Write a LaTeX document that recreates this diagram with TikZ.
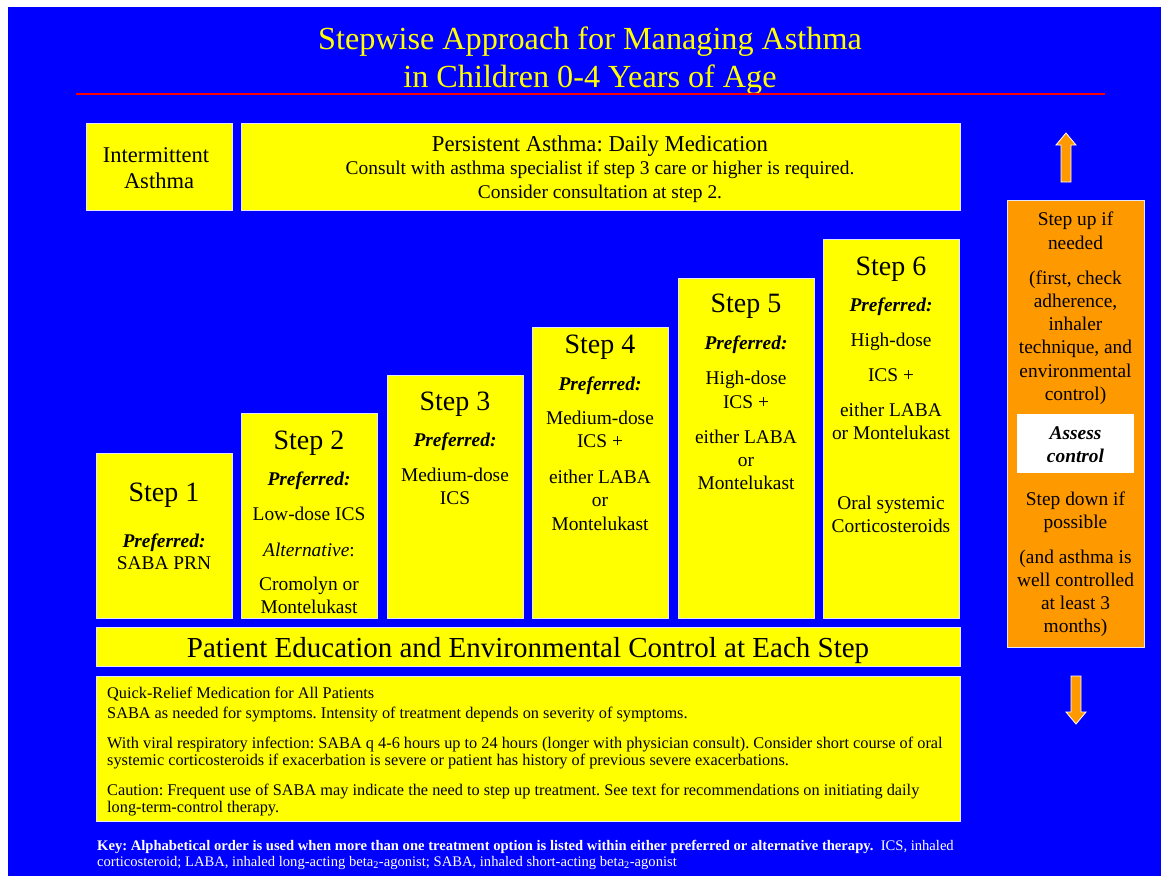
\documentclass[tikz,border=0pt]{standalone}
\usepackage{fontspec}
\setmainfont{Liberation Serif}
\frenchspacing

\definecolor{slideblue}{RGB}{0,0,255}
\definecolor{slideyellow}{RGB}{255,255,0}
\definecolor{steporange}{RGB}{255,153,0}
\definecolor{rimwhite}{RGB}{228,228,255}

\newcommand{\stepsize}{\fontsize{28}{34}\selectfont}
\newcommand{\prefbf}{\bfseries\itshape}

\tikzset{
  panel/.style={draw=rimwhite, line width=0.8pt, fill=slideyellow, anchor=north west, inner sep=0pt},
  txt/.style={anchor=base, inner sep=0pt, text=black, font=\fontsize{19.4}{23}\selectfont},
  heading/.style={anchor=base, inner sep=0pt, text=slideyellow, font=\fontsize{32.2}{38}\selectfont},
  note/.style={anchor=base west, inner sep=0pt, text=black, font=\fontsize{16.3}{19}\selectfont},
  keytxt/.style={anchor=base west, inner sep=0pt, text=white, font=\fontsize{14.6}{16}\selectfont},
  blockarrow/.style={fill=steporange, draw=white, line width=0.8pt, line join=miter}
}

\begin{document}
\begin{tikzpicture}[x=1pt, y=-1pt]
    \useasboundingbox (0,0) rectangle (1161,876);
    \fill[white] (0,0) rectangle (1161,876);
    \fill[slideblue] (8,7) rectangle (1161,876);

    % Title
    \node[heading] (title1) at (590,49) {Stepwise Approach for Managing Asthma};
    \node[heading] (title2) at (590,87) {in Children 0-4 Years of Age};
    \draw[red, line width=1.3pt] (76,94) -- (1105,94);

    % Top row
    \node[panel, minimum width=146, minimum height=87] (inter) at (86,123) {};
    \node[panel, minimum width=719, minimum height=87] (persist) at (241,123) {};
    \node[txt, font=\fontsize{22.5}{27}\selectfont] (inter1) at (156,162) {Intermittent};
    \node[txt, font=\fontsize{22.5}{27}\selectfont] (inter2) at (159,188) {Asthma};
    \node[txt, font=\fontsize{22.7}{27}\selectfont] (persist1) at (600,151) {Persistent Asthma: Daily Medication};
    \node[txt] (persist2) at (600,174) {Consult with asthma specialist if step 3 care or higher is required.};
    \node[txt] (persist3) at (600,198) {Consider consultation at step 2.};

    % Staircase of steps
    \foreach \i/\x/\top in {1/96/453, 2/241/413, 3/387/375, 4/532/327, 5/678/278, 6/823/239}
        \node[panel, minimum width=136, minimum height={618-\top}] (step\i) at (\x,\top) {};

    \foreach \y/\t [count=\k] in {501/{\stepsize Step 1}, 547/{\prefbf Preferred:}, 569/SABA PRN}
        \node[txt] (s1-\k) at (164,\y) {\t};
    \foreach \y/\t [count=\k] in {449/{\stepsize Step 2}, 485/{\prefbf Preferred:}, 520/Low-dose ICS,
        556/{{\itshape Alternative}:}, 590/Cromolyn or, 613/Montelukast}
        \node[txt] (s2-\k) at (309,\y) {\t};
    \foreach \y/\t [count=\k] in {410/{\stepsize Step 3}, 446/{\prefbf Preferred:}, 481/Medium-dose, 504/ICS}
        \node[txt] (s3-\k) at (455,\y) {\t};
    \foreach \y/\t [count=\k] in {353/{\stepsize Step 4}, 390/{\prefbf Preferred:}, 424/Medium-dose,
        447/ICS +, 483/either LABA, 506/or, 530/Montelukast}
        \node[txt] (s4-\k) at (600,\y) {\t};
    \foreach \y/\t [count=\k] in {312/{\stepsize Step 5}, 349/{\prefbf Preferred:}, 384/High-dose,
        408/ICS +, 443/either LABA, 466/or, 489/Montelukast}
        \node[txt] (s5-\k) at (746,\y) {\t};
    \foreach \y/\t [count=\k] in {275/{\stepsize Step 6}, 311/{\prefbf Preferred:}, 346/High-dose,
        381/ICS +, 416/either LABA, 439/or Montelukast, 509/Oral systemic, 532/Corticosteroids}
        \node[txt] (s6-\k) at (891,\y) {\t};

    % Education bar
    \node[panel, minimum width=864, minimum height=39] (edu) at (96,627) {};
    \node[txt, font=\fontsize{29}{34}\selectfont] (edutxt) at (528,657)
        {Patient Education and Environmental Control at Each Step};

    % Quick-relief box
    \node[panel, minimum width=864, minimum height=145] (relief) at (96,676) {};
    \node[note] (r1) at (107,698) {Quick-Relief Medication for All Patients};
    \node[note] (r2) at (107,718) {SABA as needed for symptoms. Intensity of treatment depends on severity of symptoms.};
    \node[note] (r3) at (107,748) {With viral respiratory infection: SABA q 4-6 hours up to 24 hours (longer with physician consult). Consider short course of oral};
    \node[note] (r4) at (107,765) {systemic corticosteroids if exacerbation is severe or patient has history of previous severe exacerbations.};
    \node[note] (r5) at (107,795) {Caution: Frequent use of SABA may indicate the need to step up treatment. See text for recommendations on initiating daily};
    \node[note] (r6) at (107,812) {long-term-control therapy.};

    % Key
    \node[keytxt] (key1) at (97,850) {{\bfseries Key: Alphabetical order is used when more than one treatment option is listed within either preferred or alternative therapy.}\ \ ICS, inhaled};
    \node[keytxt] (key2) at (97,866) {corticosteroid; LABA, inhaled long-acting beta\textsubscript{2}-agonist; SABA, inhaled short-acting beta\textsubscript{2}-agonist};

    % Side column: step up / assess / step down
    \node[panel, fill=steporange, minimum width=137, minimum height=447] (side) at (1007,200) {};
    \node[anchor=north west, fill=white, inner sep=0pt, minimum width=117, minimum height=59] (assess) at (1017,414) {};
    \foreach \y/\t [count=\k] in {225/Step up if, 249/needed, 284/{(first, check}, 307/{adherence,},
        330/inhaler, 353/{technique, and}, 377/environmental, 400/control),
        439/{\prefbf Assess}, 462/{\prefbf control},
        505/Step down if, 528/possible, 563/(and asthma is, 586/well controlled, 609/at least 3, 632/months)}
        \node[txt] (side-\k) at (1075.5,\y) {\t};

    % Arrows
    \draw[blockarrow] (1061,182) -- (1061,145) -- (1056,145) -- (1066,133) -- (1076,145) -- (1071,145) -- (1071,182) -- cycle;
    \draw[blockarrow] (1071,676) -- (1081,676) -- (1081,712) -- (1086,712) -- (1076,724) -- (1066,712) -- (1071,712) -- cycle;

\end{tikzpicture}
\end{document}
